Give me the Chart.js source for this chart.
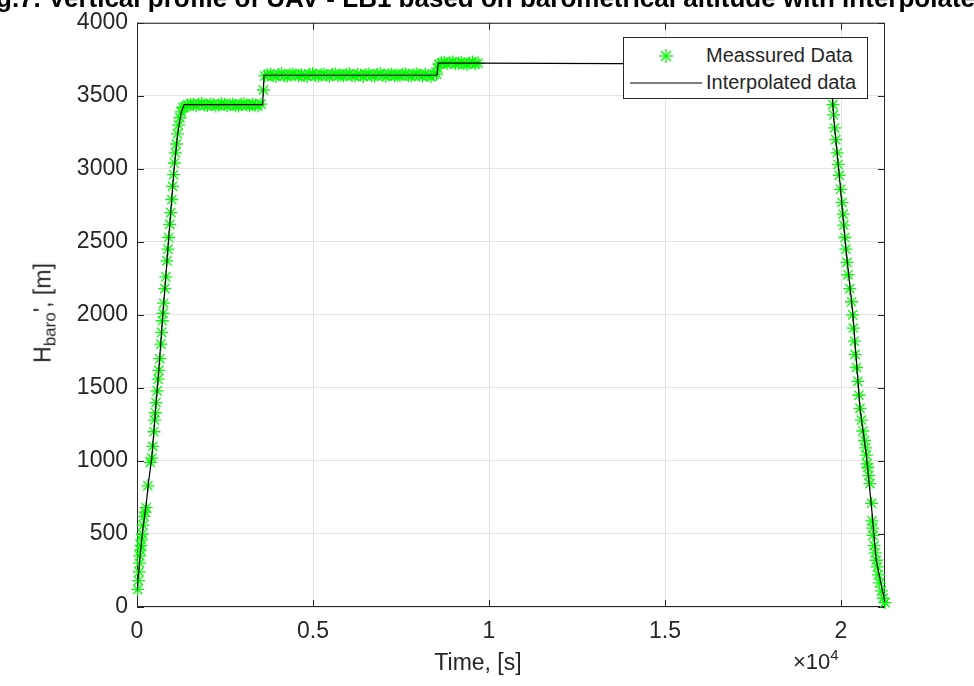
<!DOCTYPE html>
<html>
<head>
<meta charset="utf-8">
<script src="https://cdn.jsdelivr.net/npm/chart.js@4.4.1/dist/chart.umd.min.js"></script>
<style>
  html, body { margin: 0; padding: 0; background: #fff; }
  #wrap { position: relative; width: 974px; height: 686px; overflow: hidden;
          font-family: "Liberation Sans", Arial, sans-serif; color: #262626; }
  #wrap canvas { position: absolute; left: 0; top: 0; }
  .lbl { position: absolute; white-space: nowrap; }
  #title { left: -4px; top: -15px; font-size: 26px; line-height: 26px; font-weight: bold; color: #000; }
  #ylab { left: 45px; top: 313px; font-size: 23px; transform: translate(-50%, -50%) rotate(-90deg); }
  #ylab sub { font-size: 17px; vertical-align: -5px; }
  #xlab { left: 478px; top: 662px; font-size: 23px; transform: translate(-50%, -50%); }
  #xexp { left: 793px; top: 646px; font-size: 22px; }
  #xexp sup { font-size: 15px; vertical-align: 9px; }
  #legend { position: absolute; left: 623px; top: 37px; width: 245px; height: 62px; box-sizing: border-box;
            border: 1px solid #262626; background: #fff; font-size: 20px; }
  #legend .row { position: absolute; left: 82px; }
  #legend svg { position: absolute; }
</style>
</head>
<body>
<div id="wrap">
  <canvas id="chartHbaro" width="974" height="686"></canvas>
  <div class="lbl" id="title">g.7. Vertical profile of UAV - LB1 based on barometrical altitude with interpolated</div>
  <div class="lbl" id="ylab">H<sub>baro</sub>', [m]</div>
  <div class="lbl" id="xlab">Time, [s]</div>
  <div class="lbl" id="xexp">&times;10<sup>4</sup></div>
  <div id="legend">
    <svg style="left:35px;top:11px" width="14" height="14">
      <g stroke="#00ff00" stroke-width="1.3">
        <line x1="0" y1="7" x2="14" y2="7"/><line x1="7" y1="0" x2="7" y2="14"/>
        <line x1="2" y1="2" x2="12" y2="12"/><line x1="12" y1="2" x2="2" y2="12"/>
      </g>
    </svg>
    <div class="row" style="top:6px">Meassured Data</div>
    <svg style="left:6px;top:44px" width="72" height="2"><line x1="0" y1="1" x2="72" y2="1" stroke="#000" stroke-width="1"/></svg>
    <div class="row" style="top:33px">Interpolated data</div>
  </div>
</div>
<script>
// measured barometric altitude (time in s, height in m)
const measTime = [
  // climb
  20,40,60,70,80,100,110,130,150,170,
  200,230,260,310,380,420,450,480,500,520,
  540,570,600,620,650,680,700,720,740,760,
  790,820,850,880,900,930,960,990,1010,1040,
  1060,1090,1120,1150,1180,1220,1260,1300,
  // first level
  1360,1440,1520,1600,1680,1760,1840,1920,2000,2080,
  2160,2240,2320,2400,2480,2560,2640,2720,2800,2880,
  2960,3040,3120,3200,3280,3360,3440,3520,
  3590,
  // second level
  3630,3710,3790,3870,3950,4030,4110,4190,4270,4350,
  4430,4510,4590,4670,4750,4830,4910,4990,5070,5150,
  5230,5310,5390,5470,5550,5630,5710,5790,5870,5950,
  6030,6110,6190,6270,6350,6430,6510,6590,6670,6750,
  6830,6910,6990,7070,7150,7230,7310,7390,7470,7550,
  7630,7710,7790,7870,7950,8030,8110,8190,8270,8350,
  8430,8510,
  8540,
  // third level
  8570,8650,8730,8810,8890,8970,9050,9130,9210,9290,
  9370,9450,9530,9610,9690,
  // descent
  19700,19730,19750,19770,19790,19820,19850,19890,19920,19950,
  19990,20030,20060,20080,20110,20140,20170,20200,20250,20300,
  20330,20350,20380,20400,20440,20480,20510,20540,20580,20620,
  20670,20700,20720,20740,20760,20790,20820,20870,20880,20900,
  20910,20940,20970,21000,21030,21060,21100,21150,21200,21250
];
const measHeight = [
  120,180,240,300,350,390,420,460,500,560,
  620,650,680,830,990,1020,1100,1200,1280,1330,
  1400,1480,1560,1620,1700,1800,1880,1960,2010,2080,
  2180,2260,2370,2450,2530,2620,2700,2790,2880,2960,
  3040,3110,3170,3240,3300,3350,3390,3420,
  3424,3437,3443,3440,3432,3442,3447,3438,3434,3443,
  3440,3430,3437,3445,3441,3433,3439,3442,3436,3431,
  3440,3446,3438,3434,3441,3437,3432,3443,
  3540,
  3636,3643,3648,3640,3633,3646,3651,3638,3635,3644,
  3649,3642,3637,3645,3640,3632,3647,3652,3639,3636,
  3644,3648,3641,3634,3646,3650,3638,3643,3637,3645,
  3651,3640,3635,3647,3642,3633,3644,3649,3639,3636,
  3646,3652,3641,3634,3645,3648,3638,3643,3637,3646,
  3650,3640,3635,3644,3649,3642,3636,3647,3639,3633,
  3645,3648,
  3690,
  3717,3724,3730,3721,3726,3732,3719,3723,3728,3722,
  3716,3725,3731,3720,3724,
  3690,3600,3520,3440,3370,3280,3200,3110,3030,2955,
  2860,2770,2690,2615,2530,2450,2360,2275,2180,2090,
  2000,1910,1820,1730,1640,1545,1450,1360,1280,1205,
  1140,1090,1040,980,955,900,845,710,590,540,
  490,420,370,320,275,220,165,110,60,30
];

// interpolated profile
const interpTime = [0,100,170,260,330,420,520,620,720,820,
  940,1040,1150,1250,1340,3570,3610,8520,8560,9700,
  19690,19800,19950,20120,20340,20540,20720,20880,21000,21250];
const interpHeight = [110,380,540,700,860,1020,1330,1620,1960,2270,
  2650,2960,3230,3380,3440,3440,3641,3641,3724,3724,
  3715,3330,2960,2500,2000,1360,1040,650,320,30];

const xTickVals = [0,5000,10000,15000,20000];
const xTickLabels = ['0','0.5','1','1.5','2'];
const yTickVals = [0,500,1000,1500,2000,2500,3000,3500,4000];
const yTickLabels = ['0','500','1000','1500','2000','2500','3000','3500','4000'];

const axisColor = '#262626';
const tickFont = { family: '"Liberation Sans", Arial, sans-serif', size: 23 };

// box around the axes with inward ticks (matlab style)
const boxTicks = {
  id: 'boxTicks',
  beforeDatasetsDraw(chart){
    const {ctx, chartArea:a, scales:{x, y}} = chart;
    const len = 7;
    ctx.save();
    ctx.strokeStyle = axisColor;
    ctx.lineWidth = 1;
    ctx.strokeRect(a.left + 0.5, a.top + 0.5, a.right - a.left - 1, a.bottom - a.top - 1);
    ctx.beginPath();
    xTickVals.forEach(v=>{
      const px = Math.round(x.getPixelForValue(v)) + 0.5;
      ctx.moveTo(px, a.bottom); ctx.lineTo(px, a.bottom - len);
      ctx.moveTo(px, a.top); ctx.lineTo(px, a.top + len);
    });
    yTickVals.forEach(v=>{
      const py = Math.round(y.getPixelForValue(v)) + 0.5;
      ctx.moveTo(a.left, py); ctx.lineTo(a.left + len, py);
      ctx.moveTo(a.right, py); ctx.lineTo(a.right - len, py);
    });
    ctx.stroke();
    ctx.restore();
  }
};

new Chart(document.getElementById('chartHbaro'), {
  type: 'scatter',
  data: {
    datasets: [{
      label: 'Interpolated data',
      data: interpTime.map((t,i)=>({x:t, y:interpHeight[i]})),
      showLine: true,
      borderColor: '#000',
      borderWidth: 1.2,
      pointRadius: 0,
      order: 0
    },{
      label: 'Meassured Data',
      data: measTime.map((t,i)=>({x:t, y:measHeight[i]})),
      showLine: false,
      pointStyle: 'star',
      pointRadius: 6.5,
      borderColor: '#00ff00',
      backgroundColor: '#00ff00',
      borderWidth: 1.3,
      clip: false,
      order: 1
    }]
  },
  options: {
    responsive: false,
    animation: false,
    events: [],
    layout: { padding: { top: 20, right: 89, left: 0, bottom: 0 } },
    plugins: { legend: { display: false }, tooltip: { enabled: false } },
    scales: {
      x: {
        type: 'linear', min: 0, max: 21250,
        afterBuildTicks: s=>{ s.ticks = xTickVals.map(v=>({value:v})); },
        afterFit: s=>{ s.height = 79; },
        ticks: { callback: (v,i)=>xTickLabels[i], font: tickFont, color: axisColor,
                 padding: 11, maxRotation: 0, autoSkip: false },
        grid: { color: '#e3e3e3', drawTicks: false },
        border: { display: false }
      },
      y: {
        min: 0, max: 4000,
        afterBuildTicks: s=>{ s.ticks = yTickVals.map(v=>({value:v})); },
        afterFit: s=>{ s.width = 137; },
        ticks: { callback: (v,i)=>yTickLabels[i], font: tickFont, color: axisColor, padding: 9 },
        grid: { color: '#e3e3e3', drawTicks: false },
        border: { display: false }
      }
    }
  },
  plugins: [boxTicks]
});
</script>
</body>
</html>
